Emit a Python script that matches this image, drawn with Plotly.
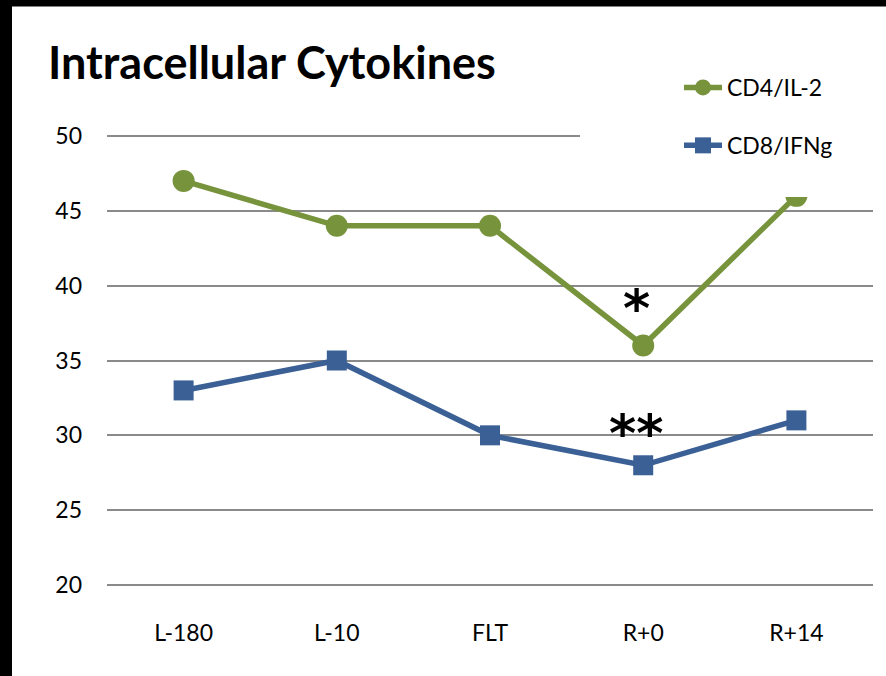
import plotly.graph_objects as go

categories = ["L-180", "L-10", "FLT", "R+0", "R+14"]
cd4_il2 = [47, 44, 44, 36, 46]
cd8_ifng = [33, 35, 30, 28, 31]
y_ticks = [20, 25, 30, 35, 40, 45, 50]

GREEN = "#77933C"
BLUE = "#3A6096"
FONT = "Lato"

# plot area pixel geometry (20 -> y=585, 50 -> y=136), padded 3px each side
W, H = 886, 676
PAD = 3
L, R, T, B = 107, 13, 136 - PAD, 91 - PAD
PW, PH = W - L - R, H - T - B
KPX = 449 / 30.0
YPAD = PAD / KPX

def px(x):
    return (x - L) / PW

def py(y):
    return (H - B - y) / PH

fig = go.Figure()
fig.add_trace(go.Scatter(x=categories, y=cd4_il2, name="CD4/IL-2", mode="lines+markers",
                         line=dict(color=GREEN, width=5.5),
                         marker=dict(symbol="circle", size=22, color=GREEN),
                         legendgroup="a"))
fig.add_trace(go.Scatter(x=categories, y=cd8_ifng, name="CD8/IFNg", mode="lines+markers",
                         line=dict(color=BLUE, width=5.5),
                         marker=dict(symbol="square", size=20, color=BLUE),
                         legendgroup="b"))

shapes = [
    # white box behind legend (covers gridline like the original legend box)
    dict(type="rect", xref="paper", yref="paper", x0=px(580), x1=px(890), y0=py(197), y1=py(7),
         fillcolor="white", line=dict(width=0), layer="above"),
    # black frame strips
    dict(type="rect", xref="paper", yref="paper", x0=px(-5), x1=px(12), y0=py(680), y1=py(-5),
         fillcolor="black", line=dict(width=0), layer="above"),
    dict(type="rect", xref="paper", yref="paper", x0=px(-5), x1=px(890), y0=py(6.5), y1=py(-5),
         fillcolor="black", line=dict(width=0), layer="above"),
]

annotations = [
    dict(text="<b>Intracellular Cytokines</b>", xref="paper", yref="paper", x=px(46), y=py(62),
         xanchor="left", yanchor="middle", showarrow=False, font=dict(family=FONT, size=45, color="black")),
    dict(text="<b>*</b>", x=categories[3], y=cd4_il2[3], xref="x", yref="y", xshift=-7, yshift=6,
         yanchor="bottom", showarrow=False, font=dict(family="DejaVu Sans", size=52, color="black")),
    dict(text="<b>**</b>", x=categories[3], y=cd8_ifng[3], xref="x", yref="y", xshift=-7, yshift=0,
         yanchor="bottom", showarrow=False, font=dict(family="DejaVu Sans", size=52, color="black")),
]

fig.update_layout(
    width=W, height=H,
    margin=dict(l=L, r=R, t=T, b=B),
    paper_bgcolor="white", plot_bgcolor="white",
    font=dict(family=FONT, size=23, color="black"),
    shapes=shapes, annotations=annotations,
    showlegend=True,
    legend=dict(x=px(679), y=py(66), xanchor="left", yanchor="top",
                bgcolor="rgba(0,0,0,0)", font=dict(family=FONT, size=23, color="black"),
                tracegroupgap=25, traceorder="grouped", itemwidth=38),
    xaxis=dict(type="category", range=[-0.5, 4.5], showgrid=False, zeroline=False, showline=False,
               ticks="", ticklabelstandoff=26 + PAD, tickfont=dict(family=FONT, size=23)),
    yaxis=dict(range=[20 - YPAD, 50 + YPAD], tickvals=y_ticks, showgrid=True, gridcolor="#8A8A8A",
               gridwidth=2, zeroline=False, showline=False, ticks="", ticklabelstandoff=24,
               tickfont=dict(family=FONT, size=23)),
)

fig.write_html("out.html", config={"displayModeBar": False},
               post_script="document.body.style.margin='0';")
